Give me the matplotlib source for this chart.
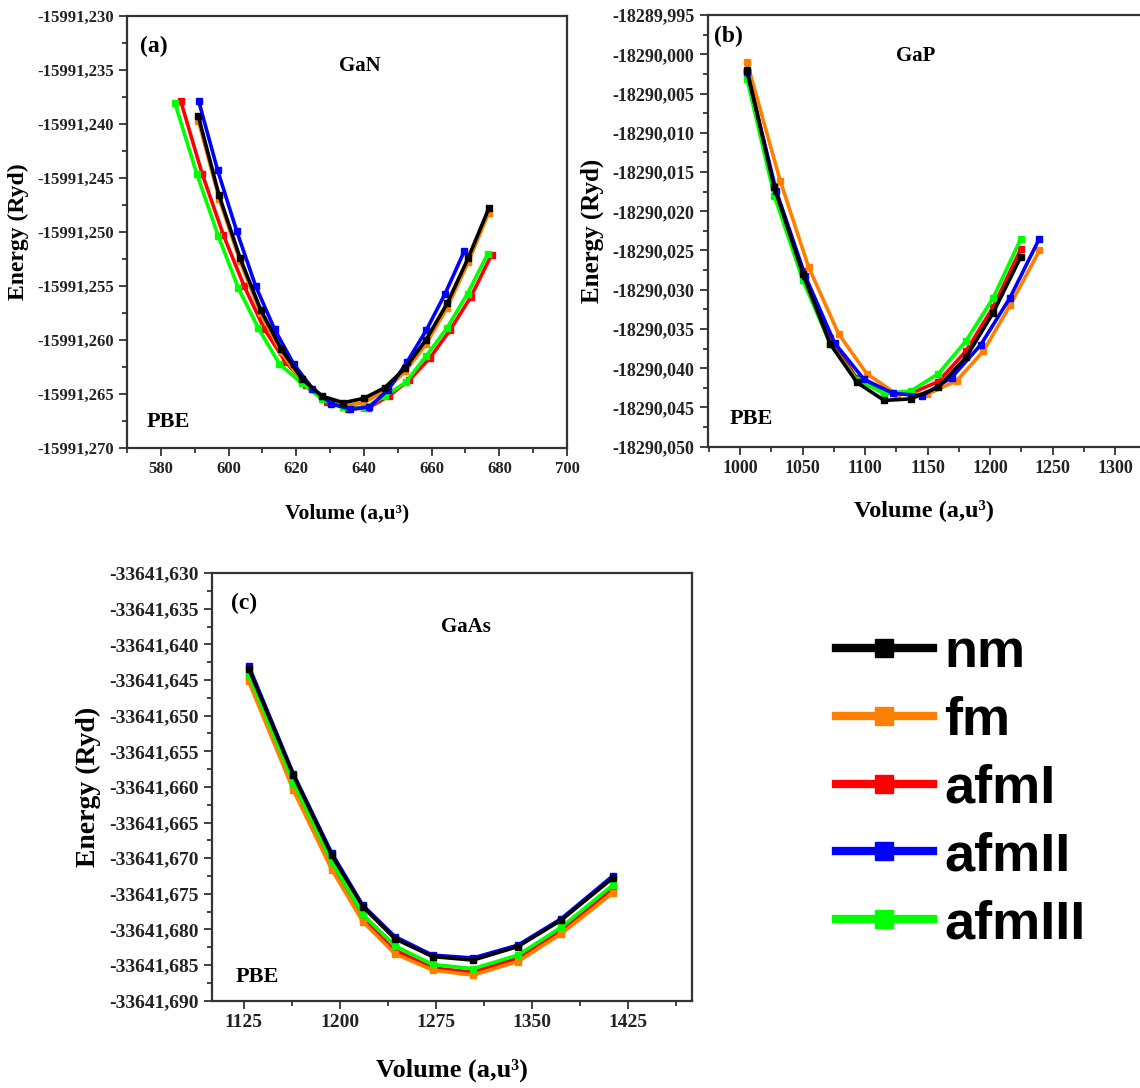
import matplotlib
matplotlib.use("Agg")
import matplotlib.pyplot as plt
from matplotlib.ticker import MultipleLocator, FuncFormatter
from matplotlib.lines import Line2D

series = ["nm", "fm", "afmI", "afmII", "afmIII"]
colors = {"nm": "#000000", "fm": "#FF8000", "afmI": "#FF0000", "afmII": "#0000FF", "afmIII": "#00FF00"}
draw_order = ["afmI", "fm", "afmIII", "afmII", "nm"]

# (a) GaN
gan_v = {
    "nm": [591.1, 597.2, 603.4, 609.5, 615.5, 621.7, 627.7, 633.9, 640.0, 646.2, 652.2, 658.3, 664.6, 670.8, 676.9],
    "fm": [591.1, 597.2, 603.4, 609.5, 615.5, 621.7, 627.7, 633.9, 640.0, 646.2, 652.2, 658.3, 664.6, 670.8, 676.9],
    "afmI": [585.9, 592.2, 598.5, 604.6, 610.6, 616.8, 623.0, 629.0, 635.2, 641.2, 647.3, 653.4, 659.4, 665.4, 671.6, 677.7],
    "afmII": [591.2, 596.8, 602.4, 608.0, 613.6, 619.2, 624.8, 630.4, 636.0, 641.6, 647.2, 652.8, 658.4, 664.0, 669.6],
    "afmIII": [584.2, 590.6, 597.0, 602.9, 608.8, 615.0, 621.6, 627.8, 633.9, 640.0, 646.2, 652.4, 658.3, 664.5, 670.6, 676.6],
}
gan_e = {
    "nm": [-15991.2393, -15991.2466, -15991.2524, -15991.2572, -15991.2608, -15991.2636, -15991.2652, -15991.2658,
           -15991.2654, -15991.2644, -15991.2626, -15991.2600, -15991.2566, -15991.2524, -15991.2478],
    "fm": [-15991.2397, -15991.2469, -15991.2527, -15991.2575, -15991.2611, -15991.2639, -15991.2655, -15991.2661,
           -15991.2658, -15991.2647, -15991.2629, -15991.2604, -15991.2570, -15991.2528, -15991.2482],
    "afmI": [-15991.2379, -15991.2446, -15991.2503, -15991.2550, -15991.2590, -15991.2620, -15991.2642, -15991.2657,
             -15991.2664, -15991.2663, -15991.2652, -15991.2637, -15991.2617, -15991.2591, -15991.2560, -15991.2521],
    "afmII": [-15991.2379, -15991.2443, -15991.2499, -15991.2550, -15991.2590, -15991.2622, -15991.2645, -15991.2659,
              -15991.2664, -15991.2662, -15991.2646, -15991.2620, -15991.2591, -15991.2557, -15991.2518],
    "afmIII": [-15991.2381, -15991.2446, -15991.2504, -15991.2552, -15991.2589, -15991.2622, -15991.2640, -15991.2655,
               -15991.2662, -15991.2663, -15991.2652, -15991.2639, -15991.2615, -15991.2589, -15991.2557, -15991.2520],
}

# (b) GaP
gap_v = {
    "nm": [1005.4, 1027.2, 1050.2, 1072.0, 1093.4, 1115.2, 1136.6, 1158.6, 1180.8, 1202.6, 1224.6],
    "fm": [1005.4, 1032.0, 1054.7, 1078.7, 1101.3, 1125.3, 1149.9, 1173.3, 1194.7, 1216.0, 1239.5],
    "afmI": [1005.4, 1027.2, 1050.2, 1072.0, 1093.4, 1115.2, 1136.6, 1158.6, 1180.8, 1202.6, 1224.6],
    "afmII": [1005.4, 1028.8, 1052.2, 1075.6, 1099.0, 1122.4, 1145.8, 1169.2, 1192.6, 1216.0, 1239.4],
    "afmIII": [1005.4, 1027.2, 1050.2, 1072.0, 1093.4, 1115.2, 1136.6, 1158.6, 1180.8, 1202.6, 1224.6],
}
gap_e = {
    "nm": [-18290.0020, -18290.0169, -18290.0280, -18290.0369, -18290.0418, -18290.0441, -18290.0439, -18290.0424,
           -18290.0386, -18290.0329, -18290.0258],
    "fm": [-18290.0010, -18290.0161, -18290.0271, -18290.0356, -18290.0407, -18290.0433, -18290.0433, -18290.0416,
           -18290.0378, -18290.0320, -18290.0250],
    "afmI": [-18290.0022, -18290.0168, -18290.0276, -18290.0362, -18290.0413, -18290.0432, -18290.0432, -18290.0417,
             -18290.0378, -18290.0322, -18290.0248],
    "afmII": [-18290.0022, -18290.0174, -18290.0283, -18290.0368, -18290.0414, -18290.0432, -18290.0435, -18290.0412,
              -18290.0370, -18290.0310, -18290.0235],
    "afmIII": [-18290.0031, -18290.0180, -18290.0288, -18290.0369, -18290.0415, -18290.0432, -18290.0429, -18290.0407,
               -18290.0365, -18290.0310, -18290.0235],
}

# (c) GaAs
gaas_v = [1128.9, 1163.9, 1193.8, 1218.0, 1243.1, 1272.5, 1304.1, 1339.2, 1373.0, 1413.2]
gaas_e = {
    "nm": [-33641.6434, -33641.6584, -33641.6696, -33641.6768, -33641.6813, -33641.6838, -33641.6843, -33641.6824,
           -33641.6787, -33641.6728],
    "fm": [-33641.6452, -33641.6605, -33641.6716, -33641.6789, -33641.6834, -33641.6857, -33641.6864, -33641.6845,
           -33641.6806, -33641.6749],
    "afmI": [-33641.6446, -33641.6600, -33641.6711, -33641.6785, -33641.6829, -33641.6854, -33641.6860, -33641.6840,
             -33641.6802, -33641.6742],
    "afmII": [-33641.6430, -33641.6582, -33641.6693, -33641.6766, -33641.6810, -33641.6836, -33641.6840, -33641.6822,
              -33641.6785, -33641.6725],
    "afmIII": [-33641.6442, -33641.6594, -33641.6705, -33641.6779, -33641.6823, -33641.6849, -33641.6855, -33641.6836,
               -33641.6797, -33641.6738],
}

serif = ["Liberation Serif", "DejaVu Serif"]


def comma_fmt(v, pos):
    return f"{v:.3f}".replace(".", ",")


def style_axes(ax, xlim, ylim, xmaj, ymaj, tick_size, xlab_size, ylab_size, xpad):
    ax.set_xlim(*xlim)
    ax.set_ylim(*ylim)
    ax.xaxis.set_major_locator(MultipleLocator(xmaj))
    ax.xaxis.set_minor_locator(MultipleLocator(xmaj / 2))
    ax.yaxis.set_major_locator(MultipleLocator(ymaj))
    ax.yaxis.set_minor_locator(MultipleLocator(ymaj / 2))
    ax.yaxis.set_major_formatter(FuncFormatter(comma_fmt))
    ax.xaxis.set_major_formatter(FuncFormatter(lambda v, p: f"{v:g}"))
    ax.tick_params(which="major", direction="out", length=6, width=1.3, colors="#333333")
    ax.tick_params(which="minor", direction="out", length=3.5, width=1.3, colors="#333333")
    for lab in ax.get_xticklabels() + ax.get_yticklabels():
        lab.set_fontfamily(serif)
        lab.set_fontweight("bold")
        lab.set_fontsize(tick_size)
        lab.set_color("#222222")
    for s in ax.spines.values():
        s.set_linewidth(1.6)
        s.set_color("#333333")
    ax.set_xlabel("Volume (a,u\u00b3)", fontfamily=serif, fontweight="bold", fontsize=xlab_size, labelpad=xpad)
    ax.set_ylabel("Energy (Ryd)", fontfamily=serif, fontweight="bold", fontsize=ylab_size, labelpad=6)


def draw(ax, vols, energies):
    for key in draw_order:
        v = vols[key] if isinstance(vols, dict) else vols
        ax.plot(v, energies[key], color=colors[key], marker="s", markersize=5, linewidth=2.6)


fig = plt.figure(figsize=(11.4, 10.88), dpi=100)

ax_a = fig.add_axes([0.1114, 0.5882, 0.386, 0.3971])
draw(ax_a, gan_v, gan_e)
style_axes(ax_a, (570, 700), (-15991.270, -15991.230), 20, 0.005, 12, 15.5, 17, 19)

ax_b = fig.add_axes([0.6208, 0.5894, 0.3792, 0.3968])
draw(ax_b, gap_v, gap_e)
style_axes(ax_b, (974, 1320), (-18290.050, -18289.995), 50, 0.005, 13, 17.5, 18, 16)
ax_b.spines["right"].set_visible(False)

ax_c = fig.add_axes([0.1857, 0.0802, 0.4211, 0.3931])
draw(ax_c, gaas_v, gaas_e)
style_axes(ax_c, (1100, 1475), (-33641.690, -33641.630), 75, 0.005, 14, 19, 20, 20)

panel_text = [
    (ax_a, "(a)", "GaN", (0.03, 0.93), (0.53, 0.885), (0.045, 0.06)),
    (ax_b, "(b)", "GaP", (0.015, 0.95), (0.48, 0.905), (0.05, 0.065)),
    (ax_c, "(c)", "GaAs", (0.04, 0.93), (0.53, 0.875), (0.05, 0.055)),
]
for ax, tag, name, p_tag, p_name, p_pbe in panel_text:
    ax.text(*p_tag, tag, transform=ax.transAxes, fontfamily=serif, fontweight="bold", fontsize=17, va="center")
    ax.text(*p_name, name, transform=ax.transAxes, fontfamily=serif, fontweight="bold", fontsize=15,
            ha="center", va="center")
    ax.text(*p_pbe, "PBE", transform=ax.transAxes, fontfamily=serif, fontweight="bold", fontsize=16, va="center")

handles = [Line2D([], [], color=colors[k], linewidth=6, marker="s", markersize=13) for k in series]
fig.legend(handles, series, loc="upper left", bbox_to_anchor=(0.733, 0.423), frameon=False, numpoints=1,
           prop={"family": "Liberation Sans", "weight": "bold", "size": 39},
           handlelength=1.8, handletextpad=0.2, labelspacing=0.33, borderpad=0, borderaxespad=0)

fig.savefig("out.png", dpi=100)
